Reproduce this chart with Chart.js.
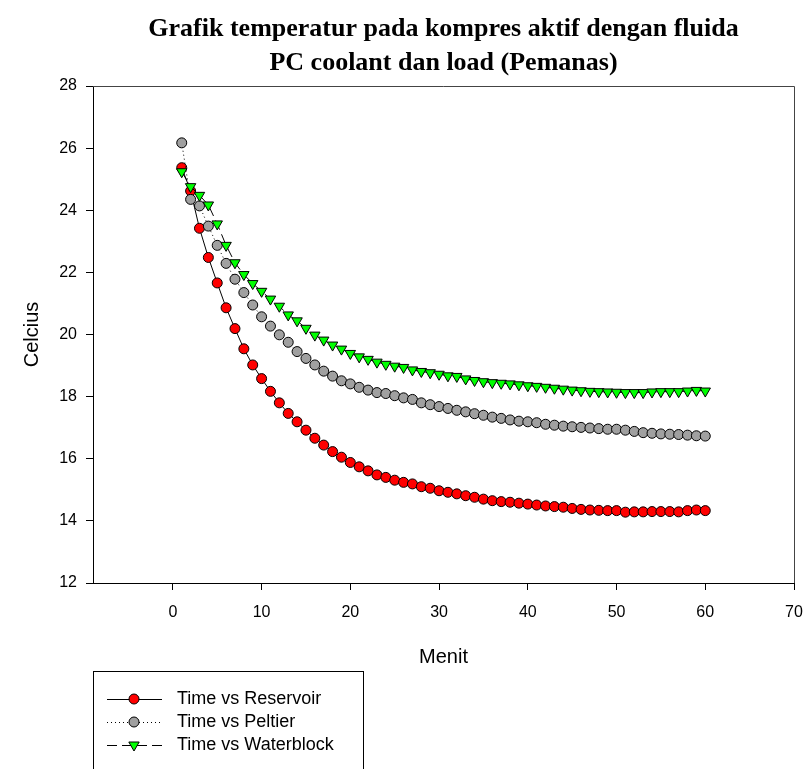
<!DOCTYPE html>
<html>
<head>
<meta charset="utf-8">
<script src="https://cdn.jsdelivr.net/npm/chart.js@4.4.1/dist/chart.umd.min.js"></script>
<style>
  html, body { margin: 0; padding: 0; background: #ffffff; }
  #wrap { width: 806px; height: 769px; }
</style>
</head>
<body>
<div id="wrap"><canvas id="chart" width="806" height="769"></canvas></div>
<script>
// Temperature readings (°C) per minute
const titleLines = ['Grafik temperatur pada kompres aktif dengan fluida', 'PC coolant dan load (Pemanas)'];
const xAxisTitle = 'Menit';
const yAxisTitle = 'Celcius';
const seriesNames = ['Time vs Reservoir', 'Time vs Peltier', 'Time vs Waterblock'];
const xTickValues = [0, 10, 20, 30, 40, 50, 60, 70];

const minutes = [1, 2, 3, 4, 5, 6, 7, 8, 9, 10,
  11, 12, 13, 14, 15, 16, 17, 18, 19, 20,
  21, 22, 23, 24, 25, 26, 27, 28, 29, 30,
  31, 32, 33, 34, 35, 36, 37, 38, 39, 40,
  41, 42, 43, 44, 45, 46, 47, 48, 49, 50,
  51, 52, 53, 54, 55, 56, 57, 58, 59, 60];

const reservoir = [25.37, 24.62, 23.42, 22.48, 21.66, 20.86, 20.19, 19.54, 19.02, 18.58,
  18.17, 17.80, 17.46, 17.19, 16.92, 16.66, 16.44, 16.23, 16.05, 15.88,
  15.74, 15.61, 15.48, 15.40, 15.31, 15.24, 15.19, 15.10, 15.05, 14.97,
  14.92, 14.87, 14.81, 14.76, 14.70, 14.65, 14.62, 14.60, 14.57, 14.54,
  14.51, 14.48, 14.46, 14.44, 14.40, 14.37, 14.35, 14.34, 14.33, 14.33,
  14.28, 14.29, 14.29, 14.30, 14.30, 14.30, 14.29, 14.33, 14.35, 14.33];

const peltier = [26.17, 24.35, 24.14, 23.49, 22.87, 22.29, 21.78, 21.35, 20.95, 20.57,
  20.27, 19.99, 19.75, 19.45, 19.23, 19.02, 18.82, 18.66, 18.51, 18.41,
  18.30, 18.21, 18.13, 18.10, 18.03, 17.96, 17.91, 17.80, 17.74, 17.68,
  17.62, 17.56, 17.51, 17.45, 17.40, 17.34, 17.30, 17.25, 17.21, 17.19,
  17.16, 17.11, 17.08, 17.05, 17.03, 17.01, 16.99, 16.97, 16.95, 16.95,
  16.92, 16.88, 16.84, 16.82, 16.80, 16.79, 16.78, 16.76, 16.74, 16.73];

const waterblock = [25.24, 24.76, 24.48, 24.17, 23.56, 22.87, 22.31, 21.93, 21.64, 21.39,
  21.14, 20.91, 20.63, 20.44, 20.20, 19.98, 19.82, 19.66, 19.53, 19.39,
  19.28, 19.20, 19.11, 19.04, 18.98, 18.94, 18.86, 18.81, 18.77, 18.72,
  18.67, 18.65, 18.57, 18.52, 18.48, 18.45, 18.43, 18.41, 18.38, 18.35,
  18.33, 18.30, 18.27, 18.24, 18.21, 18.19, 18.17, 18.16, 18.15, 18.14,
  18.13, 18.13, 18.13, 18.15, 18.16, 18.16, 18.16, 18.18, 18.20, 18.18];

const SANS = '"Liberation Sans", Arial, sans-serif';
const SERIF = '"Liberation Serif", "Times New Roman", serif';

const toPoints = (ys) => minutes.map((m, i) => ({ x: m, y: ys[i] }));

// Two-line bold title centred over the plotting area
const titlePlugin = {
  id: 'twoLineTitle',
  afterDraw(chart) {
    const { ctx, chartArea } = chart;
    const cx = (chartArea.left + chartArea.right) / 2;
    ctx.save();
    ctx.fillStyle = '#000';
    ctx.font = 'bold 26px ' + SERIF;
    ctx.textAlign = 'center';
    ctx.textBaseline = 'middle';
    titleLines.forEach((line, i) => ctx.fillText(line, cx, 29 + i * 34));
    ctx.restore();
  }
};

// Closed frame around the plotting area
const framePlugin = {
  id: 'frame',
  beforeDatasetsDraw(chart) {
    const { ctx, chartArea: a } = chart;
    ctx.save();
    ctx.strokeStyle = '#444';
    ctx.lineWidth = 1;
    ctx.beginPath();
    ctx.moveTo(a.left, a.top + 0.5);
    ctx.lineTo(a.right + 0.5, a.top + 0.5);
    ctx.lineTo(a.right + 0.5, a.bottom);
    ctx.stroke();
    ctx.restore();
  }
};

// Boxed legend below the x axis with line + marker samples
const legendPlugin = {
  id: 'boxLegend',
  afterDraw(chart) {
    const { ctx } = chart;
    const boxX = 93.5, boxY = 671.5, boxW = 270, boxH = 130;
    ctx.save();
    ctx.strokeStyle = '#000';
    ctx.lineWidth = 1;
    ctx.strokeRect(boxX, boxY, boxW, boxH);
    chart.data.datasets.forEach((ds, i) => {
      const y = 699 + i * 23;
      ctx.save();
      ctx.strokeStyle = ds.borderColor;
      ctx.lineWidth = ds.borderWidth;
      ctx.setLineDash(ds.borderDash || []);
      ctx.beginPath();
      ctx.moveTo(107, y + 0.5);
      ctx.lineTo(162, y + 0.5);
      ctx.stroke();
      ctx.restore();
      ctx.save();
      ctx.fillStyle = ds.pointBackgroundColor;
      ctx.strokeStyle = ds.pointBorderColor;
      ctx.lineWidth = ds.pointBorderWidth;
      Chart.helpers.drawPoint(ctx, {
        pointStyle: ds.pointStyle,
        rotation: ds.pointRotation || 0,
        radius: ds.pointRadius,
        borderWidth: ds.pointBorderWidth
      }, 134, y);
      ctx.restore();
      ctx.fillStyle = '#000';
      ctx.font = '18px ' + SANS;
      ctx.textAlign = 'left';
      ctx.textBaseline = 'middle';
      ctx.fillText(seriesNames[i], 177, y);
    });
    ctx.restore();
  }
};

new Chart(document.getElementById('chart'), {
  type: 'line',
  data: {
    datasets: [
      {
        label: seriesNames[0],
        data: toPoints(reservoir),
        borderColor: '#000',
        borderWidth: 1,
        pointStyle: 'circle',
        pointRadius: 5,
        pointBackgroundColor: '#ff0000',
        pointBorderColor: '#000',
        pointBorderWidth: 1,
        order: 3
      },
      {
        label: seriesNames[1],
        data: toPoints(peltier),
        borderColor: '#000',
        borderWidth: 1,
        borderDash: [1, 3],
        pointStyle: 'circle',
        pointRadius: 5,
        pointBackgroundColor: '#a0a0a0',
        pointBorderColor: '#000',
        pointBorderWidth: 1,
        order: 2
      },
      {
        label: seriesNames[2],
        data: toPoints(waterblock),
        borderColor: '#000',
        borderWidth: 1,
        borderDash: [10, 5],
        pointStyle: 'triangle',
        pointRotation: 180,
        pointRadius: 6,
        pointBackgroundColor: '#00ff00',
        pointBorderColor: '#000',
        pointBorderWidth: 1,
        order: 1
      }
    ]
  },
  options: {
    responsive: false,
    animation: false,
    devicePixelRatio: 1,
    layout: { padding: { top: 86, right: 12, left: 0, bottom: 0 } },
    plugins: {
      legend: { display: false },
      title: { display: false },
      tooltip: { enabled: false }
    },
    elements: { line: { tension: 0 } },
    scales: {
      x: {
        type: 'linear',
        min: -9,
        max: 70,
        afterBuildTicks(scale) {
          scale.ticks = xTickValues.map(v => ({ value: v }));
        },
        afterFit(scale) {
          scale.height = 186;
          scale.paddingLeft = 0;
          scale.paddingRight = 0;
        },
        border: { display: true, color: '#000', width: 1 },
        grid: { drawOnChartArea: false, drawTicks: true, tickLength: 7, color: '#000' },
        ticks: {
          color: '#000',
          font: { family: SANS, size: 16 },
          padding: 13,
          maxRotation: 0,
          autoSkip: false
        },
        title: {
          display: true,
          text: xAxisTitle,
          color: '#000',
          font: { family: SANS, size: 20 },
          padding: { top: 0, bottom: 100 }
        }
      },
      y: {
        type: 'linear',
        min: 12,
        max: 28,
        afterFit(scale) {
          scale.width = 93;
          scale.paddingTop = 0;
          scale.paddingBottom = 0;
        },
        border: { display: true, color: '#000', width: 1 },
        grid: { drawOnChartArea: false, drawTicks: true, tickLength: 7, color: '#000' },
        ticks: {
          stepSize: 2,
          color: '#000',
          font: { family: SANS, size: 16 },
          padding: 9
        },
        title: {
          display: true,
          text: yAxisTitle,
          color: '#000',
          font: { family: SANS, size: 20 },
          padding: { top: 20, bottom: 0 }
        }
      }
    }
  },
  plugins: [titlePlugin, framePlugin, legendPlugin]
});
</script>
</body>
</html>
